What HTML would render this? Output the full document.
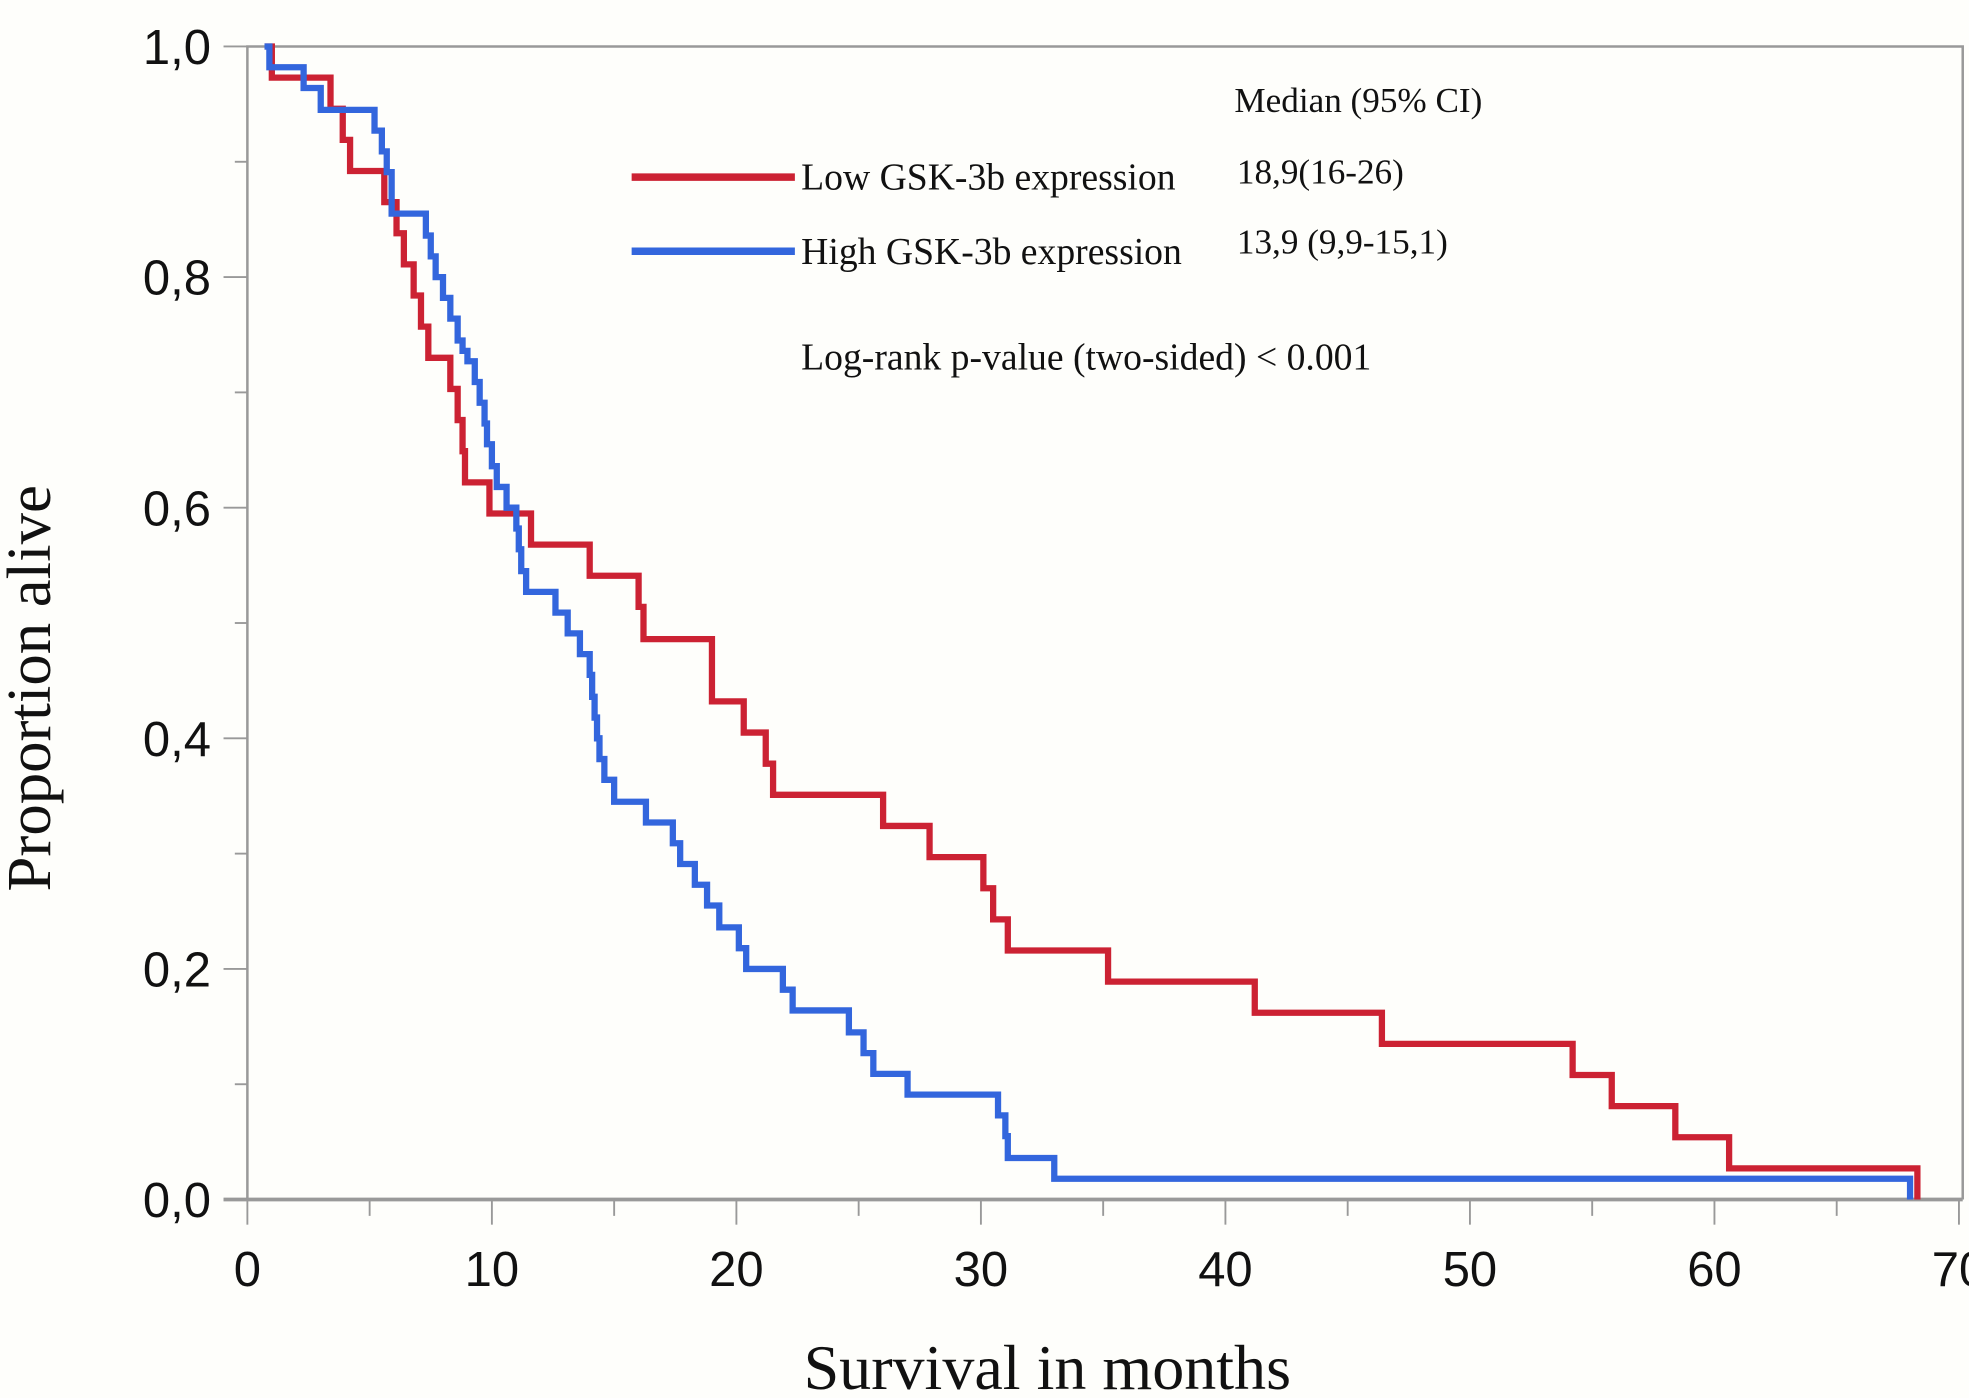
<!DOCTYPE html>
<html><head><meta charset="utf-8"><style>
html,body{margin:0;padding:0;background:#fefefb;}
svg{display:block}
.tk{font-family:"Liberation Sans",sans-serif;font-size:39px;fill:#111}
.sf{font-family:"Liberation Serif",serif;fill:#111}
</style></head><body>
<svg id="chart" width="1969" height="1398" viewBox="0 0 1568 1113" preserveAspectRatio="none" xmlns="http://www.w3.org/2000/svg">
<rect width="1568" height="1113" fill="#fefefb"/>
<g id="axes"></g>
<g id="series"></g>
<text class="sf" transform="translate(40,548) rotate(-90)" text-anchor="middle" font-size="50">Proportion alive</text>
<text class="sf" x="834" y="1106" text-anchor="middle" font-size="51">Survival in months</text>
<line x1="503" y1="141" x2="633" y2="141" stroke="#cc2233" stroke-width="6"/>
<text class="sf" x="638" y="151" font-size="30">Low GSK-3b expression</text>
<line x1="503" y1="200" x2="633" y2="200" stroke="#3366dd" stroke-width="6"/>
<text class="sf" x="638" y="210" font-size="30">High GSK-3b expression</text>
<text class="sf" x="983" y="89" font-size="28">Median (95% CI)</text>
<text class="sf" x="985" y="146" font-size="28">18,9(16-26)</text>
<text class="sf" x="985" y="202" font-size="28">13,9 (9,9-15,1)</text>
<text class="sf" x="638" y="294" font-size="30">Log-rank p-value (two-sided) &lt; 0.001</text>
</svg>
<script>
const xTicks=[0,10,20,30,40,50,60,70];
const yTicks=[0,0.2,0.4,0.6,0.8,1.0];
const yTickLabels=["0,0","0,2","0,4","0,6","0,8","1,0"];
const lowTimes=[0.7,1.0,3.4,3.9,4.2,5.6,6.1,6.4,6.8,7.1,7.4,8.3,8.6,8.8,8.9,9.9,11.6,14.0,16.0,16.2,19.0,19.0,20.3,21.2,21.5,26.0,27.9,30.1,30.5,31.1,35.2,41.2,46.4,54.2,55.8,58.4,60.6,68.3];
const lowSurv=[1.0,0.973,0.946,0.919,0.892,0.865,0.838,0.811,0.784,0.757,0.730,0.703,0.676,0.649,0.622,0.595,0.568,0.541,0.514,0.486,0.459,0.432,0.405,0.378,0.351,0.324,0.297,0.270,0.243,0.216,0.189,0.162,0.135,0.108,0.081,0.054,0.027,0.0];
const highTimes=[0.7,0.9,2.3,3.0,5.2,5.5,5.7,5.9,7.3,7.5,7.7,8.0,8.3,8.6,8.8,9.0,9.3,9.5,9.7,9.8,10.0,10.2,10.6,11.0,11.1,11.2,11.4,12.6,13.1,13.6,14.0,14.1,14.2,14.3,14.4,14.6,15.0,16.3,17.4,17.7,18.3,18.8,19.3,20.1,20.4,21.9,22.3,24.6,25.2,25.6,27.0,30.7,31.0,31.1,33.0,68.0];
const highSurv=[1.0,0.982,0.964,0.945,0.927,0.909,0.891,0.855,0.836,0.818,0.800,0.782,0.764,0.745,0.736,0.727,0.709,0.691,0.673,0.655,0.636,0.618,0.600,0.582,0.564,0.545,0.527,0.509,0.491,0.473,0.455,0.436,0.418,0.400,0.382,0.364,0.345,0.327,0.309,0.291,0.273,0.255,0.236,0.218,0.200,0.182,0.164,0.145,0.127,0.109,0.091,0.073,0.055,0.036,0.018,0.0];
const X0=197,X1=1560,Y0=955,Y1=37;
const xs=t=>X0+(X1-X0)*t/70;
const ys=v=>Y0-(Y0-Y1)*v;
const NS="http://www.w3.org/2000/svg";
const ax=document.getElementById('axes');
function mk(tag,attrs,parent){const e=document.createElementNS(NS,tag);for(const k in attrs)e.setAttribute(k,attrs[k]);parent.appendChild(e);return e;}
let fr=mk('path',{d:`M${X0},${ys(0)} V${Y1} H1563 V${Y0}`,fill:'none',stroke:'#999',"stroke-width":2},ax);


let xl=mk('line',{x1:178,y1:Y0,x2:1563,y2:Y0,stroke:'#999',"stroke-width":3},ax);


for(let t=0;t<=70;t+=5){
  const major=t%10===0;
  let l=mk('line',{x1:xs(t),y1:Y0,x2:xs(t),y2:major?975:968,stroke:'#999',"stroke-width":1.5},ax);
  
  
}
xTicks.forEach(t=>{
  let tx=mk('text',{x:xs(t),y:1024,"text-anchor":"middle",class:'tk'},ax);
  tx.textContent=t;
  
  
});
for(let i=0;i<=10;i++){
  const v=i/10,major=i%2===0;
  let l=mk('line',{x1:major?178:187,y1:ys(v),x2:X0,y2:ys(v),stroke:'#999',"stroke-width":1.5},ax);
  
  
}
yTicks.forEach((v,i)=>{
  let tx=mk('text',{x:168,y:ys(v)+14,"text-anchor":"end",class:'tk'},ax);
  tx.textContent=yTickLabels[i];
  
  
});
function stepPath(times,surv){
  let d=`M${xs(times[0])},${ys(surv[0])}`;
  for(let i=1;i<times.length;i++){d+=` H${xs(times[i])} V${ys(surv[i])}`;}
  return d;
}
const sg=document.getElementById('series');
let pl=mk('path',{d:stepPath(lowTimes,lowSurv),fill:'none',stroke:'#cc2233',"stroke-width":5},sg);


let ph=mk('path',{d:stepPath(highTimes,highSurv),fill:'none',stroke:'#3366dd',"stroke-width":5},sg);


</script>
</body></html>
